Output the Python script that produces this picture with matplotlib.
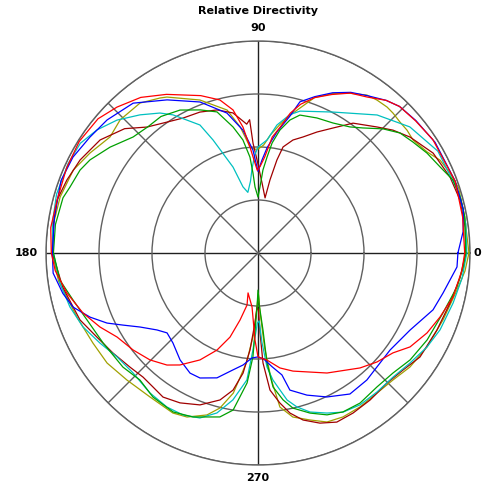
import numpy as np
import matplotlib
matplotlib.use("Agg")
import matplotlib.pyplot as plt

# measured directivity, angle in degrees, relative radius (outer ring = 1)
red_deg = [0, 10, 20, 33, 40, 46, 50, 55, 60, 65, 70, 74, 77, 80, 83, 86, 88.5, 90.5,
           92.5, 94.3, 96.8, 99.9, 104, 110, 120, 127, 134, 140, 148, 156, 165, 173,
           180, 185, 191.8, 198.9, 205.1, 210.8, 217.8, 224.7, 230.9, 235.1, 241.5,
           247.1, 251.6, 255, 258.1, 256, 263.7, 268, 270, 274.8, 280.8, 286.5, 299.9,
           311.6, 317.5, 323.5, 328.3, 334.7, 340.6, 347.3, 355, 360]
red_r = [0.975, 0.98, 0.99, 0.983, 0.97, 0.961, 0.94, 0.898, 0.871, 0.825, 0.78, 0.73,
         0.677, 0.603, 0.551, 0.454, 0.41, 0.39, 0.44, 0.50, 0.598, 0.685, 0.744, 0.79,
         0.864, 0.919, 0.957, 0.985, 0.994, 0.988, 0.98, 0.985, 0.975, 0.96, 0.921,
         0.873, 0.823, 0.774, 0.746, 0.717, 0.681, 0.644, 0.574, 0.497, 0.418, 0.327,
         0.251, 0.194, 0.256, 0.41, 0.49, 0.507, 0.552, 0.581, 0.653, 0.725, 0.761,
         0.792, 0.843, 0.882, 0.91, 0.943, 0.965, 0.975]

blue_deg = [0, 6, 12, 20, 32, 40, 46, 50, 55, 60, 65, 70, 74.5, 77, 81, 85, 87.5, 90,
            90.7, 92.8, 97, 102.5, 111, 120.7, 129.8, 138.6, 145.4, 152.6, 159.8, 170,
            180, 185.6, 191.7, 196.3, 200.9, 204.9, 208.1, 212.1, 217.3, 221.3, 226.6,
            233.9, 240.5, 245.1, 251.8, 257.9, 262.4, 266.7, 270, 273, 277, 281.1,
            283.1, 289, 295.6, 303.1, 310.6, 316.2, 323.7, 333.1, 342, 347.8, 356, 360]
blue_r = [0.943, 0.973, 0.99, 0.99, 0.985, 0.972, 0.961, 0.94, 0.905, 0.875, 0.834,
          0.785, 0.74, 0.66, 0.58, 0.50, 0.44, 0.385, 0.406, 0.486, 0.584, 0.676,
          0.763, 0.84, 0.92, 0.949, 0.963, 0.983, 0.99, 0.975, 0.97, 0.971, 0.94,
          0.909, 0.848, 0.785, 0.722, 0.657, 0.599, 0.571, 0.584, 0.624, 0.651, 0.65,
          0.62, 0.564, 0.533, 0.496, 0.49, 0.50, 0.54, 0.586, 0.664, 0.709, 0.753,
          0.794, 0.789, 0.777, 0.773, 0.804, 0.868, 0.893, 0.941, 0.943]

green_deg = [0, 10, 15, 20.5, 25.3, 30.6, 35.6, 40.2, 44.8, 50, 53.9, 60, 66.4, 73.1,
             76.5, 79.9, 82.7, 84.6, 86.6, 88.3, 90, 92.6, 93.6, 94.8, 97.6, 101.2,
             106.2, 112, 118.6, 125.4, 131, 137.1, 144.4, 151, 155, 160.7, 164.2, 172,
             180, 187.8, 194.3, 201.4, 210.1, 220.2, 227.1, 233.9, 241.9, 248.4, 256.9,
             261, 265.2, 267.2, 269, 270, 271.5, 273.7, 274.7, 276.4, 279.7, 282.7, 288,
             293.1, 298.1, 304.2, 311.6, 318.4, 324.9, 332.8, 342, 350.3, 356, 360]
green_r = [0.98, 0.99, 0.99, 0.982, 0.95, 0.926, 0.899, 0.877, 0.831, 0.77, 0.736,
           0.708, 0.695, 0.68, 0.645, 0.589, 0.523, 0.455, 0.392, 0.311, 0.264, 0.312,
           0.378, 0.454, 0.538, 0.606, 0.693, 0.728, 0.768, 0.79, 0.79, 0.804, 0.858,
           0.906, 0.926, 0.94, 0.956, 0.965, 0.965, 0.943, 0.9, 0.866, 0.845, 0.834,
           0.818, 0.841, 0.85, 0.832, 0.794, 0.75, 0.615, 0.491, 0.255, 0.175, 0.25,
           0.364, 0.521, 0.636, 0.703, 0.75, 0.794, 0.83, 0.85, 0.856, 0.845, 0.852,
           0.877, 0.897, 0.917, 0.952, 0.97, 0.98]

darkred_deg = [0, 7, 14.7, 21.6, 29.7, 37.3, 42.3, 46.6, 53.8, 59, 64, 68.8, 72.8, 76.7,
               78.5, 80.7, 82.7, 86.7, 90.6, 92.6, 93.6, 95, 100.1, 106, 112.4, 119,
               124.8, 131.4, 137, 144.4, 152.4, 159.1, 165.2, 172, 180, 190, 200.6,
               207.6, 214.6, 221.7, 227.2, 231.9, 236.6, 242.5, 249.1, 255.5, 259.7,
               262.9, 265.3, 267.5, 269, 270.5, 271.5, 272.6, 275, 278.3, 281.3, 285.1,
               290, 295, 300.7, 307.3, 314.8, 321.1, 327.3, 336.7, 345.4, 353, 360]
darkred_r = [0.98, 0.985, 0.985, 0.974, 0.951, 0.902, 0.861, 0.818, 0.759, 0.688, 0.635,
             0.587, 0.558, 0.514, 0.448, 0.349, 0.262, 0.331, 0.439, 0.519, 0.63, 0.61,
             0.671, 0.702, 0.719, 0.728, 0.752, 0.792, 0.86, 0.916, 0.947, 0.965, 0.98,
             0.975, 0.97, 0.935, 0.897, 0.857, 0.831, 0.809, 0.798, 0.803, 0.814, 0.797,
             0.767, 0.716, 0.657, 0.571, 0.459, 0.33, 0.255, 0.27, 0.38, 0.519, 0.649,
             0.715, 0.77, 0.816, 0.854, 0.88, 0.878, 0.872, 0.864, 0.879, 0.908, 0.919,
             0.936, 0.96, 0.98]

cyan_deg = [0, 8, 16.3, 29.5, 39.7, 49.2, 62, 73.5, 77, 81.6, 85.4, 90, 92, 94, 96,
            99.5, 102.8, 106.2, 111.7, 114.4, 121.6, 125, 130.5, 136.7, 142.6, 148.3,
            154.8, 163.7, 172, 180, 188.6, 196, 202.9, 209.7, 216.4, 223.8, 232.3, 239.4,
            245.2, 250.6, 255.6, 260.3, 265, 267, 269.5, 271, 272.5, 274.5, 276.7, 279.1,
            281.2, 284.2, 288.1, 293.3, 298.1, 303.9, 310.6, 317.4, 324.1, 330.9, 337.1,
            345.6, 353, 360]
cyan_r = [0.985, 0.99, 0.99, 0.975, 0.931, 0.86, 0.753, 0.698, 0.67, 0.61, 0.535, 0.5,
          0.46, 0.40, 0.34, 0.29, 0.32, 0.422, 0.574, 0.663, 0.765, 0.806, 0.857, 0.914,
          0.956, 0.985, 0.99, 0.99, 0.98, 0.965, 0.945, 0.923, 0.896, 0.858, 0.826,
          0.817, 0.834, 0.844, 0.842, 0.825, 0.779, 0.703, 0.601, 0.458, 0.33, 0.32,
          0.42, 0.539, 0.603, 0.654, 0.707, 0.749, 0.789, 0.822, 0.851, 0.863, 0.863,
          0.865, 0.885, 0.912, 0.932, 0.95, 0.97, 0.985]

olive_deg = [0, 10, 18, 22.6, 27, 30.9, 36.1, 39.5, 42.7, 46, 48.5, 52.1, 55.4, 60, 65,
             70, 76, 80, 84, 87, 90, 92, 94.3, 98, 102.2, 110.8, 120.3, 122.3, 128.2,
             136, 141.9, 149.2, 155.8, 164.2, 172, 180, 188, 199.5, 208.6, 216.1, 224.1,
             233.1, 242, 246.6, 252.5, 256.2, 260, 264, 267, 269, 270.5, 272, 274, 276,
             278.1, 282, 287.3, 292.2, 297.4, 303.5, 310.4, 316.7, 323.1, 330.9, 340.1,
             349.5, 355, 360]
olive_r = [0.995, 0.99, 0.995, 0.981, 0.964, 0.929, 0.905, 0.911, 0.911, 0.917, 0.919,
           0.914, 0.905, 0.87, 0.83, 0.78, 0.68, 0.62, 0.56, 0.51, 0.49, 0.49, 0.501,
           0.6, 0.69, 0.772, 0.852, 0.865, 0.90, 0.904, 0.887, 0.922, 0.955, 0.97, 0.975,
           0.97, 0.95, 0.906, 0.887, 0.881, 0.861, 0.849, 0.855, 0.843, 0.801, 0.753,
           0.671, 0.52, 0.38, 0.25, 0.19, 0.28, 0.45, 0.6, 0.734, 0.791, 0.825, 0.861,
           0.871, 0.871, 0.867, 0.874, 0.896, 0.912, 0.928, 0.955, 0.98, 0.995]

series = [
    (olive_deg, olive_r, "#A0A000"),
    (darkred_deg, darkred_r, "#A00000"),
    (cyan_deg, cyan_r, "#00C0C0"),
    (green_deg, green_r, "#00A000"),
    (blue_deg, blue_r, "#0000FF"),
    (red_deg, red_r, "#FF0000"),
]

ring_r = [0.25, 0.5, 0.75, 1.0]
spoke_deg = [45, 135, 225, 315]
axis_deg = [0, 90, 180, 270]

fig = plt.figure(figsize=(4.85, 4.9), dpi=100)
ax = fig.add_axes([46 / 485, 25 / 490, 424 / 485, 424 / 490], projection="polar")
ax.set_ylim(0, 1)
ax.set_rticks(ring_r)
ax.set_thetagrids(spoke_deg)
ax.set_xticklabels([])
ax.set_yticklabels([])
ax.grid(True, color="#606060", linewidth=1.0, linestyle="-")
ax.spines["polar"].set_color("#606060")
ax.spines["polar"].set_linewidth(1.0)
for a in axis_deg:
    ax.axvline(np.deg2rad(a), color="#202020", linewidth=1.0, zorder=1)

for deg, r, col in series:
    ax.plot(np.deg2rad(deg), r, color=col, linewidth=0.9, zorder=3)

lab = dict(fontsize=8, fontweight="bold", family="DejaVu Sans")
ax.text(np.pi / 2, 1.06, "90", ha="center", va="center", clip_on=False, **lab)
ax.text(3 * np.pi / 2, 1.06, "270", ha="center", va="center", clip_on=False, **lab)
ax.text(np.pi, 1.04, "180", ha="right", va="center", clip_on=False, **lab)
ax.text(0, 1.015, "0", ha="left", va="center", clip_on=False, **lab)
fig.text(258 / 485, 1 - 11 / 490, "Relative Directivity", ha="center", va="center", **lab)

fig.savefig("out.png", dpi=100)
